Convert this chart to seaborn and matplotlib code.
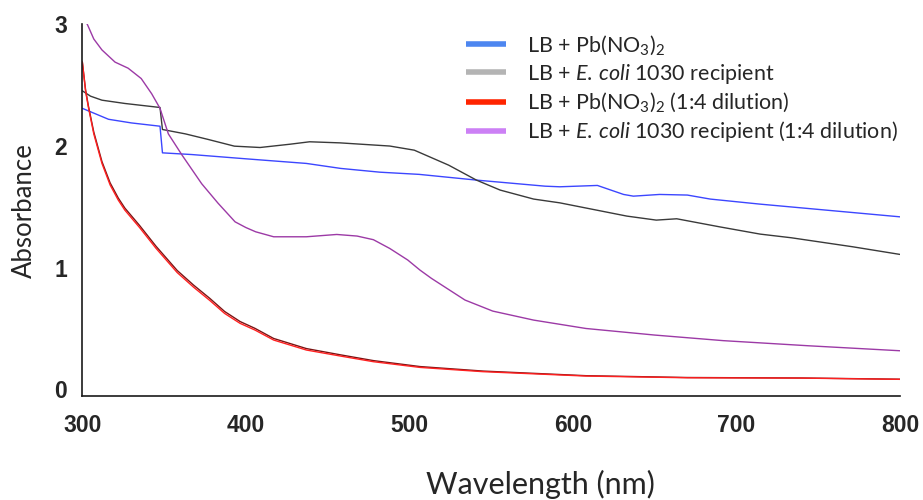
import numpy as np
import pandas as pd
import matplotlib
matplotlib.use("Agg")
import matplotlib.pyplot as plt
from matplotlib.lines import Line2D
import seaborn as sns

# Absorbance spectra (wavelength in nm, absorbance)
pb_wl = [300, 316, 330, 347.5, 349, 367, 400, 437, 458, 482, 506, 541, 583, 592,
         615, 631, 637, 653, 670, 684, 714, 755, 800]
pb_abs = [2.31, 2.22, 2.19, 2.163, 1.944, 1.93, 1.895, 1.857, 1.816, 1.785, 1.767,
          1.72, 1.67, 1.665, 1.676, 1.602, 1.588, 1.602, 1.597, 1.564, 1.523, 1.473, 1.418]

ecoli_wl = [300, 305, 312, 326, 347.5, 349, 363, 377, 393, 408.7, 427, 439, 457.6,
            488, 503, 524, 541, 555.5, 576, 592, 633, 651, 663.5, 690, 714.5, 733.5,
            771, 800]
ecoli_abs = [2.454, 2.41, 2.377, 2.35, 2.317, 2.136, 2.10, 2.054, 1.999, 1.988, 2.015,
             2.035, 2.026, 2.0, 1.966, 1.843, 1.72, 1.638, 1.564, 1.533, 1.424, 1.391,
             1.402, 1.335, 1.276, 1.246, 1.172, 1.109]

pb_dil_wl = [300, 302, 303.7, 307, 312, 317, 322, 326, 335, 345, 358, 368, 378, 387,
             396.5, 405.6, 417, 437, 457.6, 478, 506.5, 545, 608, 670, 740, 800]
pb_dil_abs = [2.69, 2.45, 2.32, 2.10, 1.857, 1.68, 1.555, 1.473, 1.33, 1.16, 0.96, 0.84,
              0.73, 0.624, 0.542, 0.487, 0.405, 0.323, 0.274, 0.227, 0.18, 0.145, 0.109,
              0.095, 0.092, 0.082]
pb_dil_rep_abs = [2.69, 2.46, 2.33, 2.115, 1.872, 1.697, 1.572, 1.49, 1.347, 1.177, 0.977,
                  0.857, 0.747, 0.64, 0.557, 0.501, 0.418, 0.335, 0.284, 0.236, 0.187,
                  0.15, 0.112, 0.097, 0.093, 0.083]

ecoli_dil_wl = [300, 303.3, 307, 312, 320, 328, 336, 342.4, 347.5, 352.6, 361, 373, 383,
                393.4, 400, 406, 417, 437, 455.6, 468, 478, 488, 499, 506.5, 513.5, 534,
                551, 576, 608, 650, 692, 744, 800]
ecoli_dil_abs = [3.08, 2.993, 2.88, 2.79, 2.69, 2.64, 2.555, 2.43, 2.31, 2.10, 1.925,
                 1.69, 1.53, 1.377, 1.33, 1.295, 1.254, 1.254, 1.273, 1.26, 1.23, 1.158,
                 1.063, 0.98, 0.912, 0.734, 0.643, 0.569, 0.50, 0.446, 0.40, 0.358, 0.317]

labels = [
    r"LB + Pb(NO$_3$)$_2$",
    r"LB + $\it{E.}\,\it{coli}$ 1030 recipient",
    r"LB + Pb(NO$_3$)$_2$ (1:4 dilution)",
    r"LB + $\it{E.}\,\it{coli}$ 1030 recipient (1:4 dilution)",
]
legend_colors = ["#4d86f0", "#b4b4b4", "#ff2400", "#cc80f5"]

frames = [
    pd.DataFrame({"wl": pb_wl, "abs": pb_abs, "series": "pb"}),
    pd.DataFrame({"wl": ecoli_wl, "abs": ecoli_abs, "series": "ecoli"}),
    pd.DataFrame({"wl": pb_dil_wl, "abs": pb_dil_rep_abs, "series": "pb_dil_rep"}),
    pd.DataFrame({"wl": pb_dil_wl, "abs": pb_dil_abs, "series": "pb_dil"}),
    pd.DataFrame({"wl": ecoli_dil_wl, "abs": ecoli_dil_abs, "series": "ecoli_dil"}),
]
df = pd.concat(frames, ignore_index=True)
line_palette = {"pb": "#3c46ff", "ecoli": "#3a3a3a", "pb_dil_rep": "#7a1414",
                "pb_dil": "#ff2020", "ecoli_dil": "#9c3aa6"}

sns.set_theme(style="white")
plt.rcParams["mathtext.fontset"] = "custom"
plt.rcParams["mathtext.rm"] = "Lato"
plt.rcParams["mathtext.it"] = "Lato:italic"

fig = plt.figure(figsize=(9.23, 5.0), dpi=100)
ax = fig.add_axes([0.0892, 0.208, 0.8858, 0.7432])

sns.lineplot(data=df, x="wl", y="abs", hue="series", palette=line_palette,
             units="series", estimator=None, sort=False, legend=False,
             linewidth=1.0, ax=ax)

ax.set_xlim(300, 800)
ax.set_ylim(-0.055, 3.0)
ax.set_xticks([300, 400, 500, 600, 700, 800])
ax.set_yticks([0, 1, 2, 3])
for side in ("top", "right"):
    ax.spines[side].set_visible(False)
for side in ("left", "bottom"):
    ax.spines[side].set_color("#1a1a1a")
    ax.spines[side].set_linewidth(1.2)
ax.tick_params(axis="y", direction="out", length=7, width=1.2,
               color="#808080", pad=4)
ax.tick_params(axis="x", direction="out", length=8, width=1.2,
               color="#1a1a1a", pad=5)
for lab in ax.get_xticklabels() + ax.get_yticklabels():
    lab.set_fontfamily("Liberation Sans")
    lab.set_fontweight("bold")
    lab.set_fontsize(16.5)

ax.set_xlabel("Wavelength (nm)", fontfamily="Lato", fontsize=22)
ax.xaxis.set_label_coords(0.56, -0.2)
ax.set_ylabel("Absorbance", fontfamily="Lato", fontsize=18.5)
ax.yaxis.set_label_coords(-0.055, 0.5)

handles = [Line2D([0], [0], color=c, lw=4, solid_capstyle="butt") for c in legend_colors]
leg = ax.legend(handles, labels, loc="upper left", bbox_to_anchor=(0.469, 0.975),
                frameon=False, borderpad=0, borderaxespad=0,
                handlelength=1.85, handletextpad=1.0,
                labelspacing=0.22, prop={"family": "Lato", "size": 15.5})

fig.savefig("out.png", dpi=100)
